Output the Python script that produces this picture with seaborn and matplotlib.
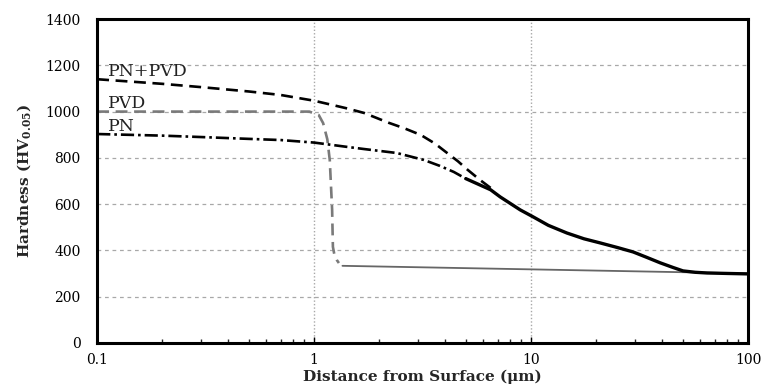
import numpy as np
import pandas as pd
import matplotlib
matplotlib.use("Agg")
import matplotlib.pyplot as plt
import seaborn as sns
from matplotlib.ticker import FixedLocator, LogLocator, NullFormatter

# ---- data ----
pnpvd_x = [0.1, 0.2, 0.3, 0.5, 0.7, 1.0, 1.4, 1.7, 2.2, 2.6, 3.1, 3.6, 4.1, 4.6, 5.1, 5.8, 6.5]
pnpvd_y = [1140, 1120, 1106, 1087, 1072, 1047, 1015, 994, 952, 928, 899, 862, 821, 785, 748, 705, 670]

pn_x = [0.1, 0.2, 0.3, 0.5, 0.7, 1.0, 1.4, 1.7, 2.4, 3.2, 3.8, 4.4, 5.0]
pn_y = [903, 896, 890, 882, 877, 866, 848, 838, 821, 791, 765, 739, 710]

pvd_x = [0.1, 0.5, 0.95, 1.05, 1.10, 1.15, 1.18, 1.21, 1.22, 1.24, 1.27, 1.30]
pvd_y = [1000, 1000, 1000, 985, 950, 880, 791, 575, 415, 380, 359, 345]

sub_x = [1.35, 100]
sub_y = [333, 300]

common_x = [5.0, 6.5, 7.2, 8.9, 10.2, 12.0, 14.6, 17.5, 20.8, 25.0, 29.5, 34.0, 39.3, 45.0, 50.1, 57.0, 64.7, 80.0, 100]
common_y = [710, 662, 631, 575, 545, 508, 475, 450, 432, 412, 393, 370, 346, 326, 311, 305, 302, 300, 298]

labels = ["PN+PVD", "PVD", "PN"]
label_y = [1172, 1035, 935]

xticks = [0.1, 1, 10, 100]
xtick_labels = ["0.1", "1", "10", "100"]
yticks = [0, 200, 400, 600, 800, 1000, 1200, 1400]

# ---- plot ----
sns.set_theme(style="white")
plt.rcParams["font.family"] = ["DejaVu Serif"]

fig = plt.figure(figsize=(7.65, 3.9), dpi=100)
ax = fig.add_axes([0.127, 0.121, 0.851, 0.830])

ax.set_xscale("log")
ax.set_xlim(0.1, 100)
ax.set_ylim(0, 1400)

# grid
for yv in yticks[1:-1]:
    ax.axhline(yv, color="#a8a8a8", lw=0.9, ls=(0, (3, 3)), zorder=0)
for xv in [1, 10]:
    ax.axvline(xv, color="#a8a8a8", lw=1.0, ls=(0, (1, 1.5)), zorder=0)

sns.lineplot(x=sub_x, y=sub_y, ax=ax, color="#666666", lw=1.3, estimator=None, sort=False)
sns.lineplot(x=pvd_x, y=pvd_y, ax=ax, color="#7a7a7a", lw=1.9, estimator=None, sort=False,
             linestyle=(0, (4.5, 2.5)))
sns.lineplot(x=pnpvd_x, y=pnpvd_y, ax=ax, color="black", lw=1.9, estimator=None, sort=False,
             linestyle=(0, (4.5, 2.5)))
sns.lineplot(x=pn_x, y=pn_y, ax=ax, color="black", lw=1.9, estimator=None, sort=False,
             linestyle=(0, (5, 1.5, 1, 1.5)))
sns.lineplot(x=common_x, y=common_y, ax=ax, color="black", lw=2.4, estimator=None, sort=False)

for lab, yv in zip(labels, label_y):
    ax.text(0.112, yv, lab, fontsize=12.5, color="#222222", va="center", ha="left")

ax.xaxis.set_major_locator(FixedLocator(xticks))
ax.set_xticklabels(xtick_labels)
ax.xaxis.set_minor_locator(LogLocator(base=10, subs=np.arange(2, 10)))
ax.xaxis.set_minor_formatter(NullFormatter())
ax.set_yticks(yticks)
ax.set_yticklabels([str(v) for v in yticks])

ax.tick_params(axis="x", which="major", direction="in", length=4, width=1, pad=7,
               labelsize=10, colors="black", bottom=True)
ax.tick_params(axis="x", which="minor", direction="in", length=3, width=1, bottom=True)
ax.tick_params(axis="y", length=0, pad=12, labelsize=10, colors="black")

for s in ax.spines.values():
    s.set_visible(True)
    s.set_color("black")
    s.set_linewidth(2.2)

ax.set_xlabel("Distance from Surface (μm)", fontsize=11, fontweight="bold", labelpad=2)
ax.set_ylabel("Hardness (HV$_{\\mathregular{0.05}}$)", fontsize=11, fontweight="bold", labelpad=8)

fig.savefig("out.png", dpi=100, facecolor="white")
